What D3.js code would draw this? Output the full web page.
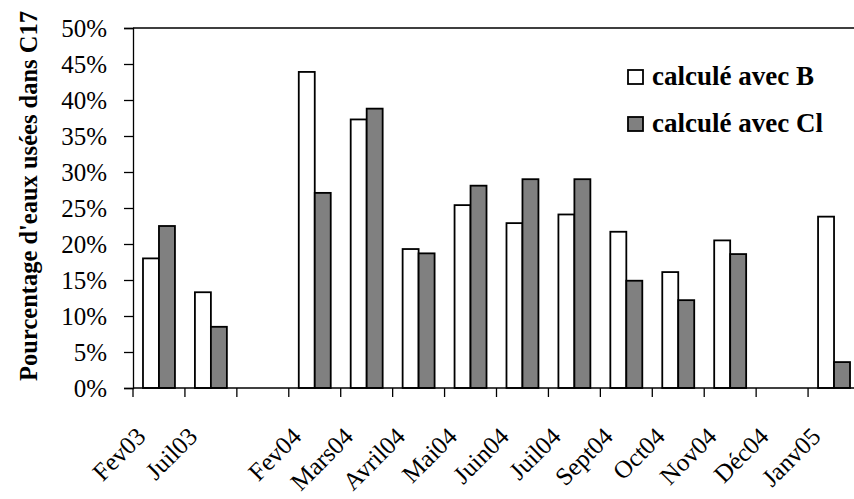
<!DOCTYPE html>
<html>
<head>
<meta charset="utf-8">
<script src="https://cdn.jsdelivr.net/npm/d3@7"></script>
<style>
  html, body { margin: 0; padding: 0; background: #fff; }
  svg { display: block; }
  svg text { font-family: "Liberation Serif"; }
</style>
</head>
<body>
<svg id="chart" width="854" height="499"></svg>
<script>
// ---- data ----
const categories = ["Fev03", "Juil03", "", "Fev04", "Mars04", "Avril04", "Mai04", "Juin04", "Juil04", "Sept04", "Oct04", "Nov04", "Déc04", "Janv05"];
const valuesB  = [0.180, 0.133, null, 0.439, 0.373, 0.193, 0.254, 0.229, 0.241, 0.217, 0.161, 0.205, null, 0.238];
const valuesCl = [0.225, 0.085, null, 0.271, 0.388, 0.187, 0.281, 0.290, 0.290, 0.149, 0.122, 0.186, null, 0.036];
const seriesNames = ["calculé avec B", "calculé avec Cl"];
const seriesColors = ["#ffffff", "#808080"];
const yTicks = [0, 0.05, 0.10, 0.15, 0.20, 0.25, 0.30, 0.35, 0.40, 0.45, 0.50];
const yTitle = "Pourcentage d'eaux usées dans C17";

(function () {
// ---- layout ----
const svg = d3.select("#chart");
const pL = 133, pR = 860, pT = 28, pB = 388;
const serif = "Liberation Serif";

const x0 = d3.scaleBand().domain(d3.range(categories.length)).range([pL, pR]).paddingInner(0).paddingOuter(0);
const x1 = d3.scaleBand().domain([0, 1]).range([0, x0.bandwidth()]).paddingInner(0).paddingOuter(0.625);
const y = d3.scaleLinear().domain([0, 0.5]).range([pB, pT]);

// plot border (top + right)
svg.append("path")
  .attr("d", `M${pL},${pT}H${pR}V${pB}`)
  .attr("fill", "none").attr("stroke", "#000").attr("stroke-width", 1.3);

// bars
const rows = categories.map((c, i) => ({ i, vals: [valuesB[i], valuesCl[i]] }));
const g = svg.append("g");
rows.forEach(r => {
  r.vals.forEach((v, s) => {
    if (v == null) return;
    g.append("rect")
      .attr("x", x0(r.i) + x1(s))
      .attr("y", y(v))
      .attr("width", x1.bandwidth())
      .attr("height", y(0) - y(v))
      .attr("fill", seriesColors[s])
      .attr("stroke", "#000")
      .attr("stroke-width", 1.8);
  });
});

// y axis
const yAxis = d3.axisLeft(y).tickValues(yTicks).tickFormat(d3.format(".0%")).tickSize(9).tickPadding(17);
const ya = svg.append("g").attr("transform", `translate(${pL},0)`).call(yAxis);
ya.attr("font-family", serif);
ya.select(".domain").attr("stroke", "#000").attr("stroke-width", 1.3);
ya.selectAll(".tick line").attr("stroke", "#000").attr("stroke-width", 1.3);
ya.selectAll(".tick text").attr("font-family", serif).attr("font-size", 25).attr("fill", "#000").attr("dy", "0.34em");

// x axis baseline + ticks at band edges
const xa = svg.append("g");
xa.append("line").attr("x1", pL).attr("x2", pR).attr("y1", y(0)).attr("y2", y(0))
  .attr("stroke", "#000").attr("stroke-width", 1.3);
const edges = d3.range(categories.length + 1).map(i => i < categories.length ? x0(i) : pR);
xa.selectAll(".xt").data(edges).join("line")
  .attr("x1", d => d).attr("x2", d => d).attr("y1", y(0)).attr("y2", y(0) + 9)
  .attr("stroke", "#000").attr("stroke-width", 1.3);

// x labels
xa.selectAll(".xl").data(categories.map((c, i) => ({ c, i })).filter(d => d.c !== "")).join("text")
  .attr("transform", d => `translate(${x0(d.i) + x0.bandwidth() / 2 - 12},${y(0) + 50}) rotate(-45)`)
  .attr("text-anchor", "end")
  .attr("font-family", serif).attr("font-size", 25).attr("fill", "#000")
  .text(d => d.c);

// y title
svg.append("text")
  .attr("transform", `translate(37,${(12 + 380) / 2}) rotate(-90)`)
  .attr("text-anchor", "middle")
  .attr("font-family", serif).attr("font-size", 24.5).attr("font-weight", "bold").attr("fill", "#000")
  .text(yTitle);

// legend
const lg = svg.append("g");
seriesNames.forEach((n, s) => {
  const ly = 77 + s * 47;
  lg.append("rect").attr("x", 628).attr("y", ly - 7).attr("width", 15).attr("height", 14)
    .attr("fill", seriesColors[s]).attr("stroke", "#000").attr("stroke-width", 1.8);
  lg.append("text").attr("x", 652).attr("y", ly + 8)
    .attr("font-family", serif).attr("font-size", 27).attr("font-weight", "bold").attr("fill", "#000")
    .text(n);
});
})();
</script>
</body>
</html>
